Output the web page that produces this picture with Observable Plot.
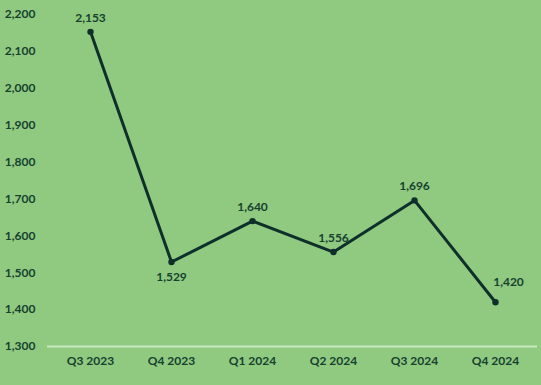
<!DOCTYPE html>
<html>
<head>
<meta charset="utf-8">
<script src="https://cdn.jsdelivr.net/npm/d3@7"></script>
<script src="https://cdn.jsdelivr.net/npm/@observablehq/plot@0.6"></script>
<style>
  html, body { margin: 0; padding: 0; background: #8fca80; }
  #chart { width: 541px; height: 385px; }
</style>
</head>
<body>
<div id="chart"></div>
<script>
const quarters = ["Q3 2023", "Q4 2023", "Q1 2024", "Q2 2024", "Q3 2024", "Q4 2024"];
const values = [2153, 1529, 1640, 1556, 1696, 1420];
const labelPos = ["above", "below", "above", "above", "above", "aboveRight"];
const yTicks = [1300, 1400, 1500, 1600, 1700, 1800, 1900, 2000, 2100, 2200];

const data = quarters.map((q, i) => ({q, v: values[i], pos: labelPos[i]}));
const fmt = d3.format(",");
const ink = "#0f2f2a";
const textInk = "#17402f";

const chart = Plot.plot({
  width: 541,
  height: 385,
  marginLeft: 47,
  marginRight: 4,
  marginTop: 14,
  marginBottom: 39,
  style: {background: "#8fca80", fontFamily: "Lato, 'Open Sans', sans-serif", fontSize: "12px", fontWeight: "bold", color: textInk},
  x: {type: "point", domain: quarters, padding: 0.5, label: null, tickSize: 0, tickPadding: 10},
  y: {domain: [1300, 2200], ticks: yTicks, tickFormat: fmt, label: null, tickSize: 0, tickPadding: 12},
  marks: [
    Plot.ruleY([1300], {stroke: "#c9e8bf", strokeWidth: 2}),
    Plot.line(data, {x: "q", y: "v", stroke: ink, strokeWidth: 3}),
    Plot.dot(data, {x: "q", y: "v", r: 3.2, fill: ink}),
    Plot.text(data.filter(d => d.pos === "above"), {x: "q", y: "v", text: d => fmt(d.v), dy: -14, fill: textInk, fontSize: 12, fontWeight: "bold"}),
    Plot.text(data.filter(d => d.pos === "below"), {x: "q", y: "v", text: d => fmt(d.v), dy: 15, fill: textInk, fontSize: 12, fontWeight: "bold"}),
    Plot.text(data.filter(d => d.pos === "aboveRight"), {x: "q", y: "v", text: d => fmt(d.v), dy: -20, dx: 13, fill: textInk, fontSize: 12, fontWeight: "bold"})
  ]
});
document.getElementById("chart").appendChild(chart);
</script>
</body>
</html>
